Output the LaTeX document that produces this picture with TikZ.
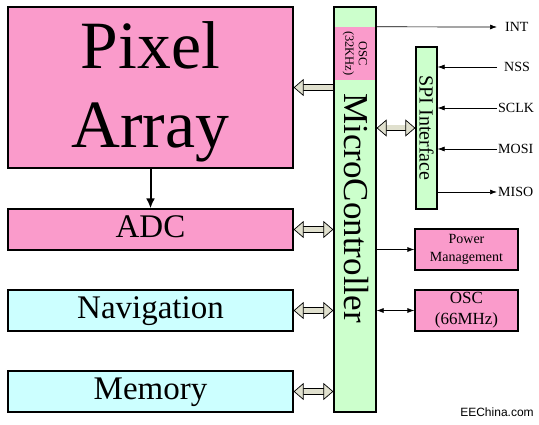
\documentclass[tikz,border=0pt]{standalone}
\usepackage{fontspec}
\usepackage{graphicx}
\setmainfont{Liberation Serif}
\newfontfamily\logofont{Liberation Sans}
\usetikzlibrary{arrows.meta}
\definecolor{blockpink}{RGB}{250,155,203}
\definecolor{blockgreen}{RGB}{204,255,204}
\definecolor{blockcyan}{RGB}{204,255,255}
\definecolor{busfill}{RGB}{224,224,206}
% large block text: set small, then scaled up
\newcommand\blocktext[2]{\scalebox{#1}{\fontsize{16.5}{19.5}\selectfont
  \begin{tabular}{@{}c@{}}#2\end{tabular}}}
\begin{document}
\begin{tikzpicture}
    [x=1pt, y=-1pt,
     block/.style={draw, line width=1.2pt, inner sep=0pt,
       minimum width=285pt, minimum height=41pt},
     small/.style={draw, line width=1.2pt, fill=blockpink, inner sep=0pt,
       minimum width=103pt, minimum height=41pt, align=center},
     bus/.style={line width=0.7pt, double=busfill, double distance=5pt},
     bustip/.tip={Triangle[fill=busfill, length=10pt, width=17pt, line width=0.7pt]},
     pin/.style={line width=0.7pt, >={Latex[length=7pt, width=5pt]}}]
    \def \pinx {497} % where the pin lines end

    \useasboundingbox (0,0) rectangle (539,425);

    % left column
    \node[block, fill=blockpink, minimum height=161pt] (pix) at (150.5,87.5) {};
    \node[inner sep=0pt] (pixtext) at (150.5,92) {\blocktext{4.1}{Pixel\\Array}};
    \node[block, fill=blockpink] (adc) at (150.5,229.5) {\blocktext{2}{ADC}};
    \node[block, fill=blockcyan] (nav) at (150.5,310.5) {\blocktext{2}{Navigation}};
    \node[block, fill=blockcyan] (mem) at (150.5,391.5) {\blocktext{2}{Memory}};

    % controller
    \node[draw, line width=1.2pt, fill=blockgreen, minimum width=42pt,
      minimum height=405pt] (mcu) at (355,209.5) {};
    \node[fill=blockpink, minimum width=40.8pt, minimum height=53pt,
      inner sep=0pt] (osc32) at (355,53.5) {};
    \node[rotate=-90, align=center, font=\fontsize{12.5}{13.5}\selectfont]
      (osc32text) at (osc32) {OSC\\(32KHz)};
    \node[rotate=-90, font=\fontsize{35}{40}\selectfont] (mcutext) at (356,208) {MicroController};

    % right column
    \node[draw, line width=1.2pt, fill=blockgreen, minimum width=21pt,
      minimum height=162pt] (spi) at (426.5,128) {};
    \node[rotate=-90, font=\fontsize{20}{24}\selectfont] (spitext) at (spi) {SPI Interface};
    \node[small, font=\fontsize{14}{18}\selectfont] (pwr) at (466.5,249.5) {Power\\Management};
    \node[small, font=\fontsize{17}{21}\selectfont] (osc) at (466.5,310.5) {OSC\\(66MHz)};

    % pins
    \node[anchor=west, inner sep=0pt, font=\fontsize{14}{16}\selectfont] (int) at (505,27) {INT};
    \foreach \name/\txt/\y/\x in {nss/NSS/67/504, sclk/SCLK/108/498,
                                  mosi/MOSI/149/498, miso/MISO/192/498}
    {
      \node[anchor=west, inner sep=0pt, font=\fontsize{14}{16}\selectfont] (\name) at (\x,\y) {\txt};
      \coordinate (\name-end) at (\pinx,\y);
    }
    \coordinate (int-end) at (\pinx,27);

    \draw[pin, ->] (osc32.north east) -- (int-end);
    \foreach \name in {nss, sclk, mosi}
      \draw[pin, ->] (\name-end) -- (\name-end -| spi.east);
    \draw[pin, ->] (miso-end -| spi.east) -- (miso-end);
    \draw[pin, ->] (pwr.west -| mcu.east) -- (pwr.west);
    \draw[pin, <->] (osc.west -| mcu.east) -- (osc.west);

    % data flow
    \draw[-{Latex[length=10pt, width=9pt]}, line width=2pt] (pix.south) -- (adc.north);

    % buses
    \draw[bus, -bustip] (mcu.west |- pix.east) -- (pix.east);
    \foreach \b in {adc, nav, mem}
      \draw[bus, bustip-bustip] (\b.east) -- (\b.east -| mcu.west);
    \draw[bus, bustip-bustip] (spi.west -| mcu.east) -- (spi.west);

    \node[font=\logofont\fontsize{12}{14}\selectfont] (logo) at (497,412) {EEChina.com};
\end{tikzpicture}
\end{document}
